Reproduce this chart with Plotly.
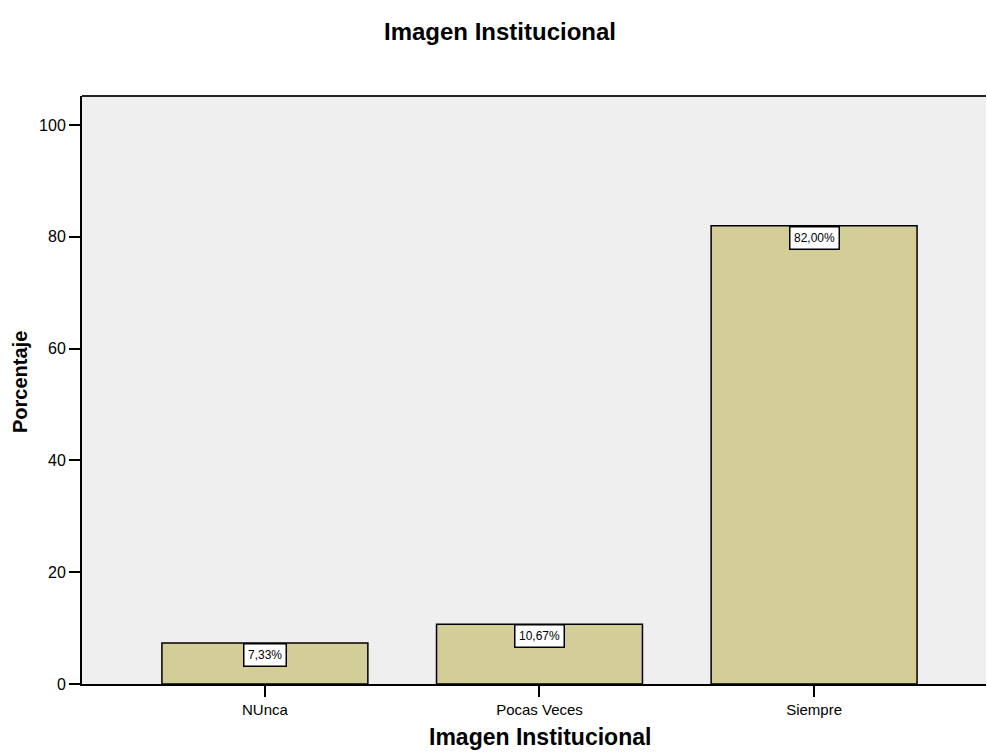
import plotly.graph_objects as go

categories = ["NUnca", "Pocas Veces", "Siempre"]
values = [7.33, 10.67, 82.00]
labels = ["7,33%", "10,67%", "82,00%"]
y_ticks = [0, 20, 40, 60, 80, 100]

FONT = "Arial, Liberation Sans, sans-serif"
W, H = 987, 752
L, R, T, B = 82, 1, 96, 68
pw, ph = W - L - R, H - T - B

fig = go.Figure()
fig.add_trace(go.Bar(
    x=categories, y=values, width=0.75,
    marker=dict(color="#D3CE98", line=dict(color="#000000", width=1.5)),
    hoverinfo="skip",
))

for c, v, t in zip(categories, values, labels):
    fig.add_annotation(
        x=c, y=v, xref="x", yref="y", text=t, showarrow=False,
        yanchor="top", xanchor="center",
        font=dict(family=FONT, size=12, color="#000000"),
        bgcolor="#FFFFFF", bordercolor="#000000", borderwidth=1.5, borderpad=3.5,
    )

# titles
fig.add_annotation(text="<b>Imagen Institucional</b>", xref="paper", yref="paper",
                   x=(500 - L) / pw, y=1 + (T - 31) / ph, xanchor="center", yanchor="middle",
                   showarrow=False, font=dict(family=FONT, size=24, color="#000000"))
fig.add_annotation(text="<b>Imagen Institucional</b>", xref="paper", yref="paper",
                   x=(540 - L) / pw, y=-(737 - (T + ph)) / ph, xanchor="center", yanchor="middle",
                   showarrow=False, font=dict(family=FONT, size=23, color="#000000"))
fig.add_annotation(text="<b>Porcentaje</b>", xref="paper", yref="paper",
                   x=(20 - L) / pw, y=1 - (382 - T) / ph, xanchor="center", yanchor="middle",
                   textangle=-90, showarrow=False, font=dict(family=FONT, size=20, color="#000000"))

# top border
fig.add_shape(type="line", xref="paper", yref="paper", x0=0, x1=1, y0=1, y1=1,
              line=dict(color="#222222", width=2))

fig.update_layout(
    width=W, height=H,
    margin=dict(l=L, r=R, t=T, b=B),
    paper_bgcolor="#FFFFFF", plot_bgcolor="#EFEFEF",
    showlegend=False,
    font=dict(family=FONT, size=15, color="#000000"),
    xaxis=dict(type="category", range=[-0.666, 2.626], showgrid=False, zeroline=False,
               showline=True, linecolor="#000000", linewidth=2,
               ticks="outside", ticklen=11, tickwidth=2, tickcolor="#000000",
               tickfont=dict(family=FONT, size=15, color="#000000")),
    yaxis=dict(range=[0, 105.2], tickvals=y_ticks, showgrid=False, zeroline=False,
               showline=True, linecolor="#000000", linewidth=2,
               ticks="outside", ticklen=11, tickwidth=2, tickcolor="#000000",
               tickfont=dict(family=FONT, size=16, color="#000000")),
)

fig.write_html("out.html", config={"displayModeBar": False},
               post_script="document.body.style.margin='0';document.body.style.overflow='hidden';")
